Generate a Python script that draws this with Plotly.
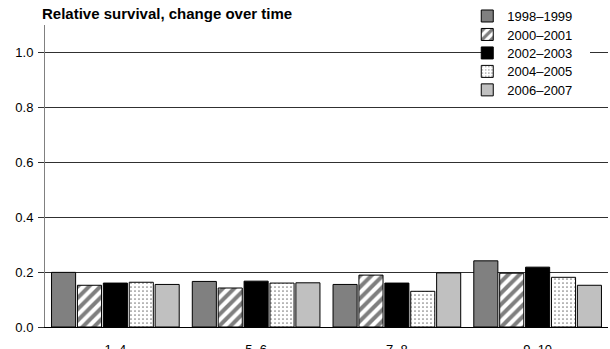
import plotly.graph_objects as go

groups = ["1–4", "5–6", "7–8", "9–10"]
periods = ["1998–1999", "2000–2001", "2002–2003", "2004–2005", "2006–2007"]

s1998 = [0.199, 0.166, 0.155, 0.241]
s2000 = [0.152, 0.142, 0.189, 0.196]
s2002 = [0.160, 0.167, 0.160, 0.218]
s2004 = [0.163, 0.160, 0.130, 0.181]
s2006 = [0.155, 0.161, 0.197, 0.152]

series = [s1998, s2000, s2002, s2004, s2006]

# fill colour, pattern shape
styles = [
    ("#808080", ""),
    ("white", "/"),
    ("black", ""),
    ("white", "."),
    ("#c0c0c0", ""),
]

H = 302.5  # plot height in px, used for paper positions
row_px = [15, 33.5, 52, 70.5, 89]  # legend row centres, px from top

fig = go.Figure()
legends = {}
for i, (name, vals, (col, shape)) in enumerate(zip(periods, series, styles)):
    pat = dict(shape=shape)
    if shape == "/":
        pat.update(fgcolor="black", bgcolor="white", size=8, solidity=0.5)
    elif shape == ".":
        pat.update(fgcolor="black", bgcolor="white", size=4, solidity=0.15)
    lg = "legend" if i == 0 else f"legend{i + 1}"
    fig.add_trace(go.Bar(
        x=groups, y=vals, name=name, legend=lg,
        marker=dict(color=col, line=dict(color="black", width=1), pattern=pat),
    ))
    # one legend per entry so the row spacing can be tightened
    legends[lg] = dict(x=0.75, y=(327 - (row_px[i] - 14.5)) / H,
                       xanchor="left", yanchor="top",
                       bgcolor="rgba(0,0,0,0)", font=dict(size=13),
                       itemwidth=30)

fig.update_layout(
    width=610, height=349,
    margin=dict(l=45, r=2, t=24.5, b=22, autoexpand=False),
    plot_bgcolor="white", paper_bgcolor="white",
    font=dict(family="Liberation Sans, Arial", size=13, color="black"),
    barmode="group", bargap=0.08, bargroupgap=0.07,
    showlegend=True,
    **legends,
    # white patch behind the legend, hiding the 1.0 gridline there
    shapes=[dict(type="rect", xref="paper", yref="paper",
                 x0=(483 - 45) / 563, x1=(590 - 45) / 563,
                 y0=(327 - 100) / H, y1=1.08,
                 fillcolor="white", line=dict(width=0), layer="above")],
    annotations=[dict(text="<b>Relative survival, change over time</b>",
                      xref="paper", yref="paper", x=(40 - 45) / 563,
                      y=(327 - 13) / H,
                      xanchor="left", yanchor="middle", showarrow=False,
                      font=dict(size=15))],
)
fig.update_xaxes(showline=True, linecolor="black", linewidth=1,
                 ticks="", ticklabelstandoff=10, showgrid=False)
fig.update_yaxes(range=[0, 1.1], tickvals=[0, 0.2, 0.4, 0.6, 0.8, 1.0],
                 tickformat=".1f", showgrid=True, gridcolor="#303030", gridwidth=1,
                 showline=True, linecolor="#808080", linewidth=1,
                 ticks="outside", ticklen=6, tickcolor="#303030",
                 ticklabelstandoff=2, zeroline=False)

fig.write_html("out.html", config={"displayModeBar": False},
               post_script="document.body.style.margin='0';")
